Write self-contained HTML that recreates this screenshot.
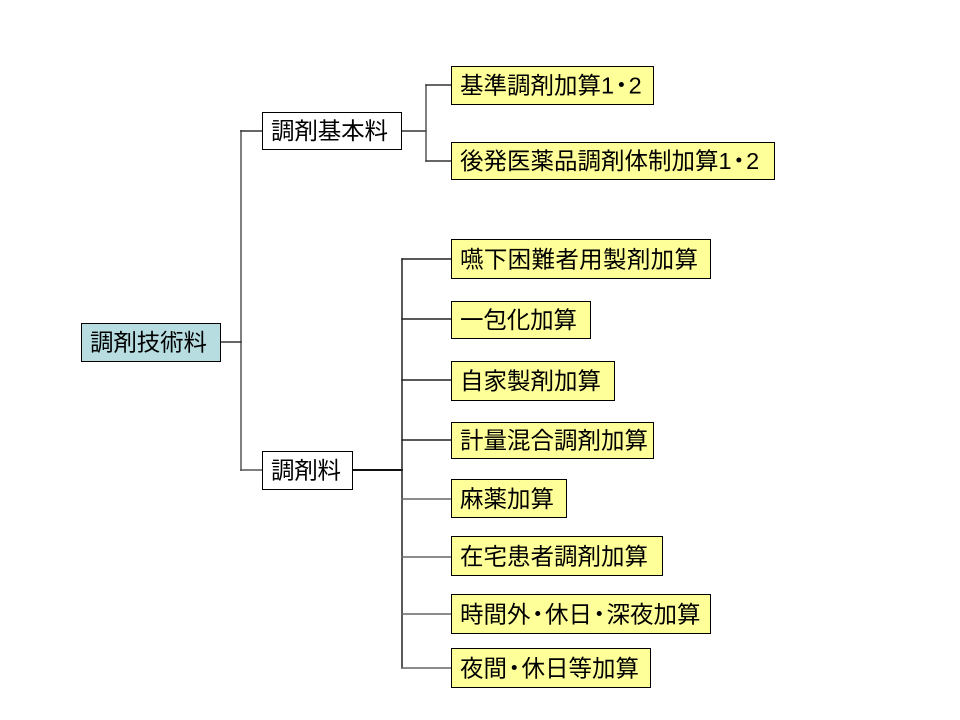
<!DOCTYPE html>
<html>
<head>
<meta charset="utf-8">
<style>
  html,body{margin:0;padding:0;background:#fff;}
  svg{display:block;}
  text{font-family:"Liberation Sans","Noto Sans CJK JP",sans-serif;font-size:23.5px;fill:#000;}
</style>
</head>
<body>
<svg width="960" height="720" viewBox="0 0 960 720" xmlns="http://www.w3.org/2000/svg">
  <rect x="0" y="0" width="960" height="720" fill="#ffffff"/>

  <!-- connectors -->
  <g fill="none" stroke-linecap="square">
    <line x1="241" y1="131" x2="241" y2="470" stroke="#808080" stroke-width="2"/>
    <line x1="221" y1="342" x2="241" y2="342" stroke="#333" stroke-width="1.5"/>
    <line x1="241" y1="131" x2="262" y2="131" stroke="#333" stroke-width="1.5"/>
    <line x1="241" y1="470" x2="262" y2="470" stroke="#555" stroke-width="1.5"/>

    <line x1="402" y1="131" x2="426" y2="131" stroke="#333" stroke-width="1.5"/>
    <line x1="426" y1="85" x2="426" y2="161" stroke="#555" stroke-width="1.5"/>
    <line x1="426" y1="85" x2="451" y2="85" stroke="#333" stroke-width="1.5"/>
    <line x1="426" y1="161" x2="451" y2="161" stroke="#333" stroke-width="1.5"/>

    <line x1="353" y1="470" x2="402" y2="470" stroke="#111" stroke-width="2"/>
    <line x1="402" y1="259" x2="402" y2="668" stroke="#222" stroke-width="1.5"/>
    <line x1="402" y1="259" x2="451" y2="259" stroke="#222" stroke-width="1.5"/>
    <line x1="402" y1="319" x2="451" y2="319" stroke="#222" stroke-width="1.5"/>
    <line x1="402" y1="380" x2="451" y2="380" stroke="#222" stroke-width="1.5"/>
    <line x1="402" y1="440" x2="451" y2="440" stroke="#222" stroke-width="1.5"/>
    <line x1="402" y1="499" x2="451" y2="499" stroke="#666" stroke-width="1.5"/>
    <line x1="402" y1="557" x2="451" y2="557" stroke="#666" stroke-width="1.5"/>
    <line x1="402" y1="614" x2="451" y2="614" stroke="#666" stroke-width="1.5"/>
    <line x1="402" y1="668" x2="451" y2="668" stroke="#666" stroke-width="1.5"/>
  </g>

  <!-- boxes -->
  <g stroke="#000" stroke-width="1">
    <rect x="81.5" y="323.5" width="139" height="38" fill="#b8dde1"/>
    <rect x="262.5" y="112.5" width="139" height="37" fill="#ffffff"/>
    <rect x="262.5" y="451.5" width="90" height="38" fill="#ffffff"/>

    <rect x="451.5" y="66.5" width="202" height="38" fill="#ffff99"/>
    <rect x="451.5" y="142.5" width="323" height="37" fill="#ffff99"/>
    <rect x="451.5" y="239.5" width="259" height="39" fill="#ffff99"/>
    <rect x="451.5" y="301.5" width="139" height="37" fill="#ffff99"/>
    <rect x="451.5" y="361.5" width="163" height="39" fill="#ffff99"/>
    <rect x="451.5" y="422.5" width="202" height="36" fill="#ffff99"/>
    <rect x="451.5" y="479.5" width="115" height="38" fill="#ffff99"/>
    <rect x="451.5" y="536.5" width="211" height="39" fill="#ffff99"/>
    <rect x="451.5" y="594.5" width="259" height="39" fill="#ffff99"/>
    <rect x="451.5" y="648.5" width="199" height="39" fill="#ffff99"/>
  </g>

  <!-- labels -->
  <text x="90" y="350.5" textLength="117" lengthAdjust="spacing">調剤技術料</text>
  <text x="271" y="139" textLength="117" lengthAdjust="spacing">調剤基本料</text>
  <text x="271" y="478.5" textLength="70" lengthAdjust="spacing">調剤料</text>

  <text x="460" y="93.5">基準調剤加算1<tspan dx="-4.5">・</tspan><tspan dx="-4.5">2</tspan></text>
  <text x="460" y="169">後発医薬品調剤体制加算1<tspan dx="-4.5">・</tspan><tspan dx="-4.5">2</tspan></text>
  <text x="460" y="267.5" textLength="238" lengthAdjust="spacing">嚥下困難者用製剤加算</text>
  <text x="460" y="328" textLength="117" lengthAdjust="spacing">一包化加算</text>
  <text x="460" y="389" textLength="141" lengthAdjust="spacing">自家製剤加算</text>
  <text x="460" y="448.5" textLength="188" lengthAdjust="spacing">計量混合調剤加算</text>
  <text x="460" y="507" textLength="94" lengthAdjust="spacing">麻薬加算</text>
  <text x="460" y="564.5" textLength="188" lengthAdjust="spacing">在宅患者調剤加算</text>
  <text x="460" y="622.5">時間外<tspan dx="-4.5">・</tspan><tspan dx="-4.5">休日</tspan><tspan dx="-4.5">・</tspan><tspan dx="-4.5">深夜加算</tspan></text>
  <text x="460" y="676.5">夜間<tspan dx="-4.5">・</tspan><tspan dx="-4.5">休日等加算</tspan></text>
</svg>
</body>
</html>
